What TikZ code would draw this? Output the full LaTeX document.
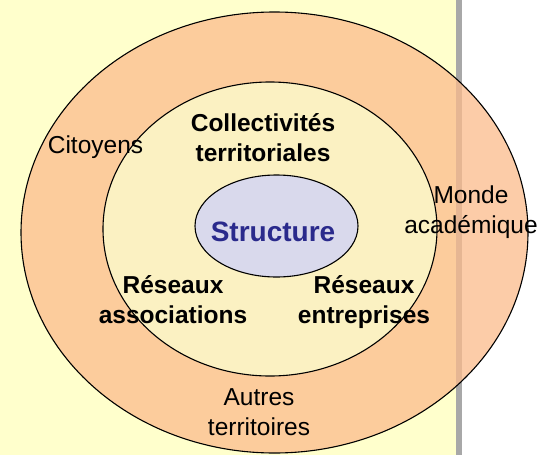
\documentclass[tikz,border=0pt]{standalone}
\usepackage{fontspec}
\setmainfont{Liberation Sans}
\usetikzlibrary{shapes.geometric}
\definecolor{bgyellow}{HTML}{FFFFCC}
\definecolor{bargray}{HTML}{A8A8A8}
\definecolor{peach}{RGB}{252,187,140}
\definecolor{cream}{HTML}{FBF1C2}
\definecolor{lavender}{HTML}{D9D9EC}
\definecolor{navy}{HTML}{2A2A8C}
\tikzset{
  ring/.style={draw=black, line width=1.1pt},
  lbl/.style={font=\fontsize{24.5}{30}\selectfont, align=center, inner sep=0pt},
  blbl/.style={lbl, font=\fontsize{24.5}{30}\selectfont\bfseries},
}
\begin{document}
\begin{tikzpicture}[x=1pt,y=-1pt]
\useasboundingbox (0,0) rectangle (540,455);
\fill[bgyellow] (0,0) rectangle (456,455);
\fill[bargray] (456,0) rectangle (462,455);
\fill[white] (462,0) rectangle (540,455);
% rings
\path[ring, fill=peach, fill opacity=0.75] (274.5,232.5) ellipse [x radius=253.5, y radius=220.5];
\path[ring, fill=cream] (270,229) ellipse [x radius=167, y radius=147];
\node[ring, ellipse, fill=lavender, minimum width=163pt, minimum height=102pt, inner sep=0pt] (core) at (276.5,226) {};
\node[anchor=base, font=\fontsize{28}{30}\selectfont\bfseries, text=navy, inner sep=0pt] (structure) at (273,241) {Structure};
% labels
\node[lbl, anchor=base] (citoyens) at (95.5,153) {Citoyens};
\node[blbl] (collectivites) at (263,137.5) {Collectivités\\territoriales};
\node[lbl] (monde) at (471,212) {Monde\\académique};
\node[blbl] (assoc) at (173,300) {Réseaux\\associations};
\node[blbl] (entr) at (364,302.5) {Réseaux\\entreprises};
\node[lbl] (autres) at (259,412) {Autres\\territoires};
\end{tikzpicture}
\end{document}
